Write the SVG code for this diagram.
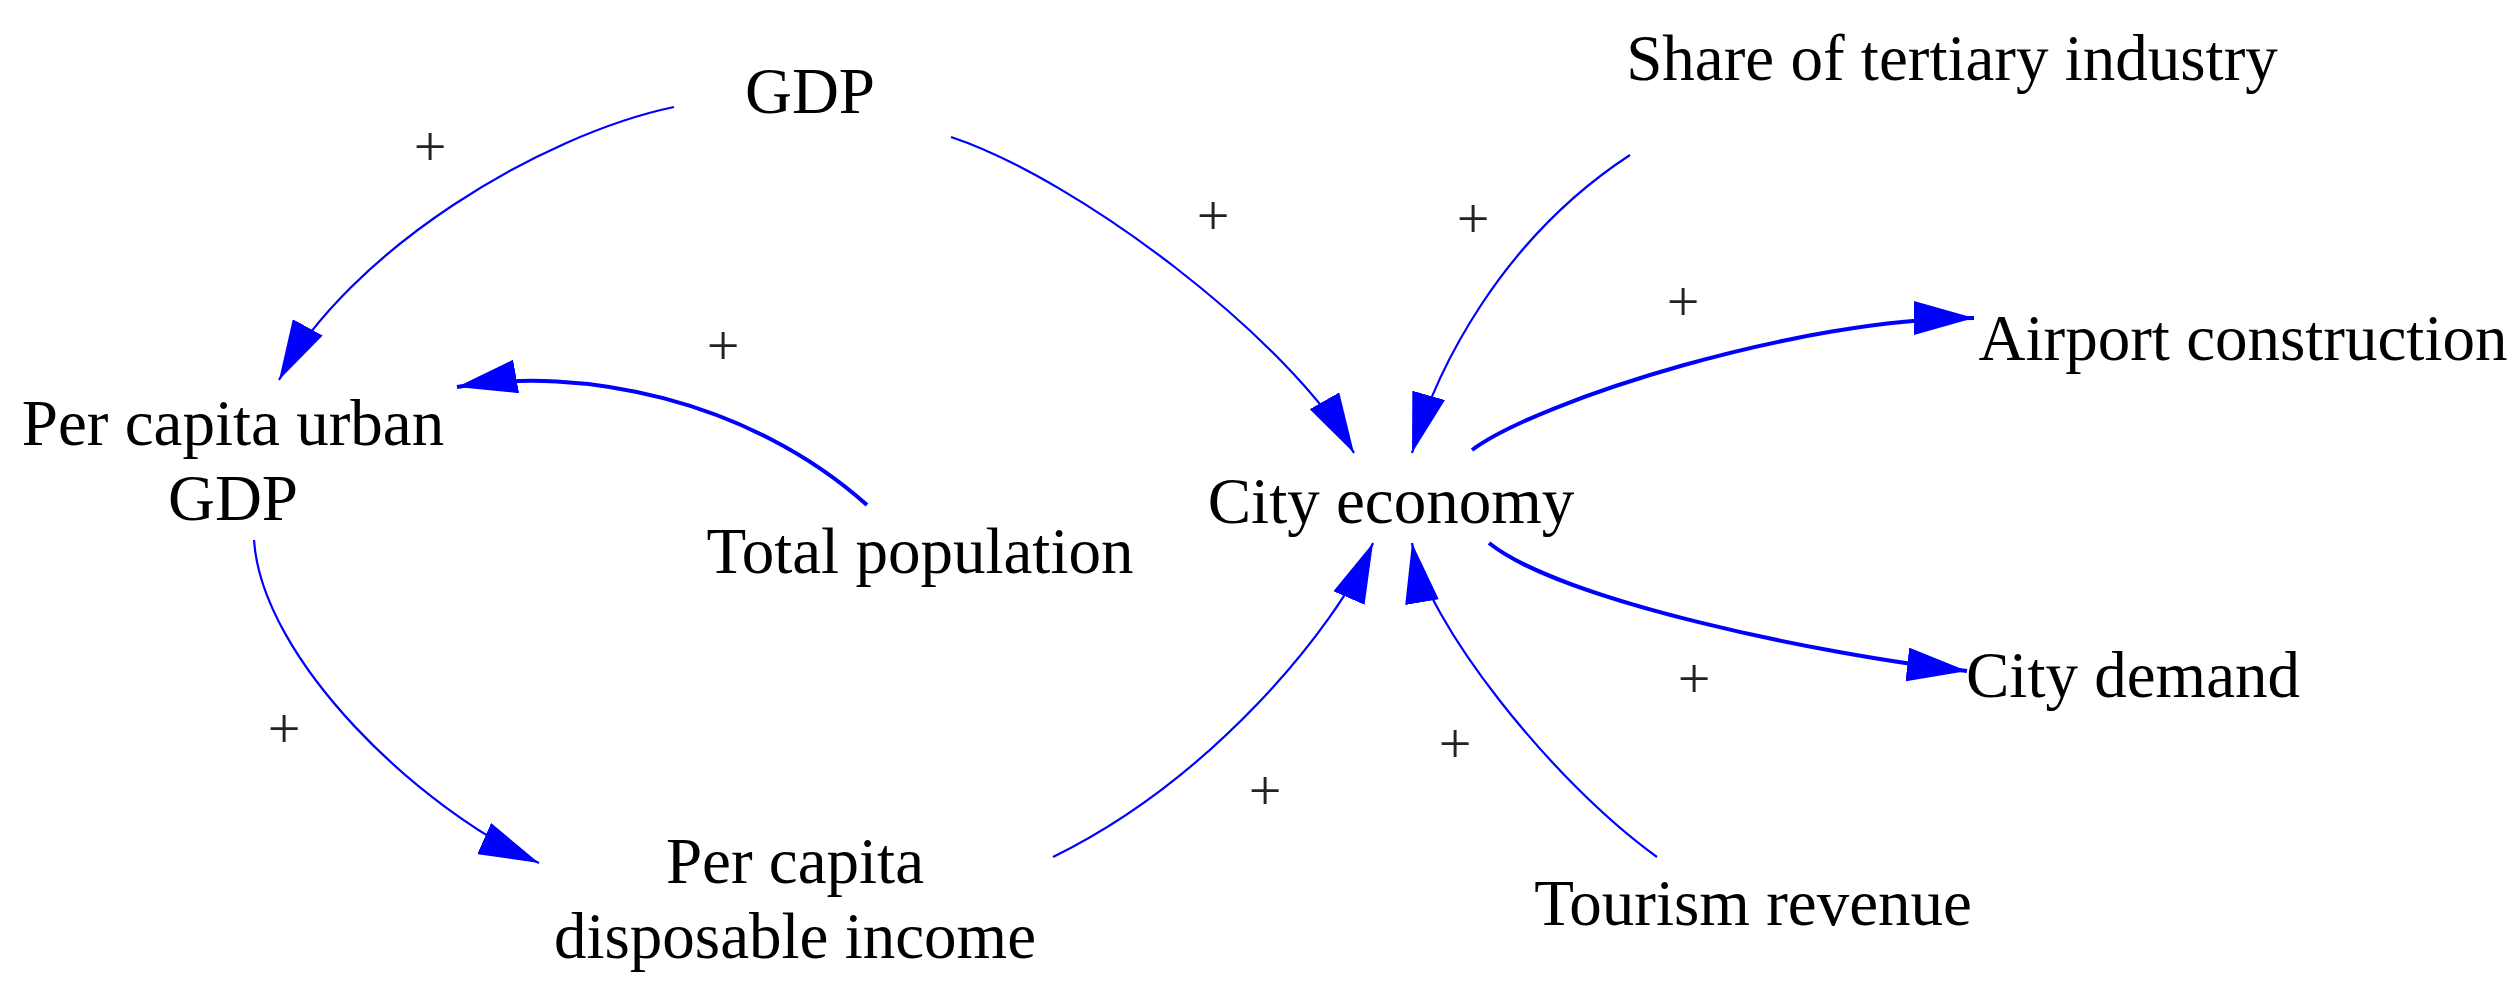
<svg xmlns="http://www.w3.org/2000/svg" width="2519" height="993" viewBox="0 0 2519 993">
<style>
.lbl{font-family:"Liberation Serif","Times New Roman",serif;font-size:65px;fill:#000;text-anchor:middle}
.pl{font-family:"Liberation Serif","Times New Roman",serif;font-size:58px;fill:#222;text-anchor:middle}
.ln{fill:none;stroke:#0000ff;stroke-width:2.2;marker-end:url(#ah)}
.thk{stroke-width:4}
</style>
<defs>
<marker id="ah" viewBox="0 0 60 34" refX="60" refY="17" markerWidth="60" markerHeight="34" markerUnits="userSpaceOnUse" orient="auto">
<path d="M0,0 L60,17 L0,34 Z" fill="#0000ff"/>
</marker>
</defs>
<rect width="2519" height="993" fill="#fff"/>
<g id="connectors">
<path class="ln" d="M674,107 C540,135 350,250 279,380"/>
<path class="ln thk" d="M867,505 C750,400 580,365 457,387"/>
<path class="ln" d="M951,137 C1080,180 1290,340 1354,453"/>
<path class="ln" d="M1630,155 C1500,240 1436,370 1412,453"/>
<path class="ln thk" d="M1472,450 C1540,400 1800,318 1974,318"/>
<path class="ln" d="M254,540 C262,660 420,810 539,863"/>
<path class="ln" d="M1053,857 C1210,780 1335,630 1373,543"/>
<path class="ln" d="M1657,857 C1550,780 1425,620 1412,543"/>
<path class="ln thk" d="M1489,543 C1560,600 1820,655 1967,671"/>
</g>
<g id="polarity">
<text class="pl" x="430" y="166">+</text>
<text class="pl" x="723" y="365">+</text>
<text class="pl" x="284" y="748">+</text>
<text class="pl" x="1213" y="235">+</text>
<text class="pl" x="1473" y="238">+</text>
<text class="pl" x="1683" y="321">+</text>
<text class="pl" x="1694" y="698">+</text>
<text class="pl" x="1455" y="763">+</text>
<text class="pl" x="1265" y="810">+</text>
</g>
<g id="n-gdp"><text class="lbl" x="810" y="113">GDP</text></g>
<g id="n-share"><text class="lbl" x="1952" y="80">Share of tertiary industry</text></g>
<g id="n-pcu"><text class="lbl" x="233" y="445">Per capita urban</text><text class="lbl" x="233" y="520">GDP</text></g>
<g id="n-totalpop"><text class="lbl" x="920" y="573">Total population</text></g>
<g id="n-cityeconomy"><text class="lbl" x="1391" y="523">City economy</text></g>
<g id="n-airport"><text class="lbl" x="2243" y="360">Airport construction</text></g>
<g id="n-citydemand"><text class="lbl" x="2133" y="697">City demand</text></g>
<g id="n-pcdi"><text class="lbl" x="795" y="883">Per capita</text><text class="lbl" x="795" y="958">disposable income</text></g>
<g id="n-tourism"><text class="lbl" x="1753" y="925">Tourism revenue</text></g>
</svg>
